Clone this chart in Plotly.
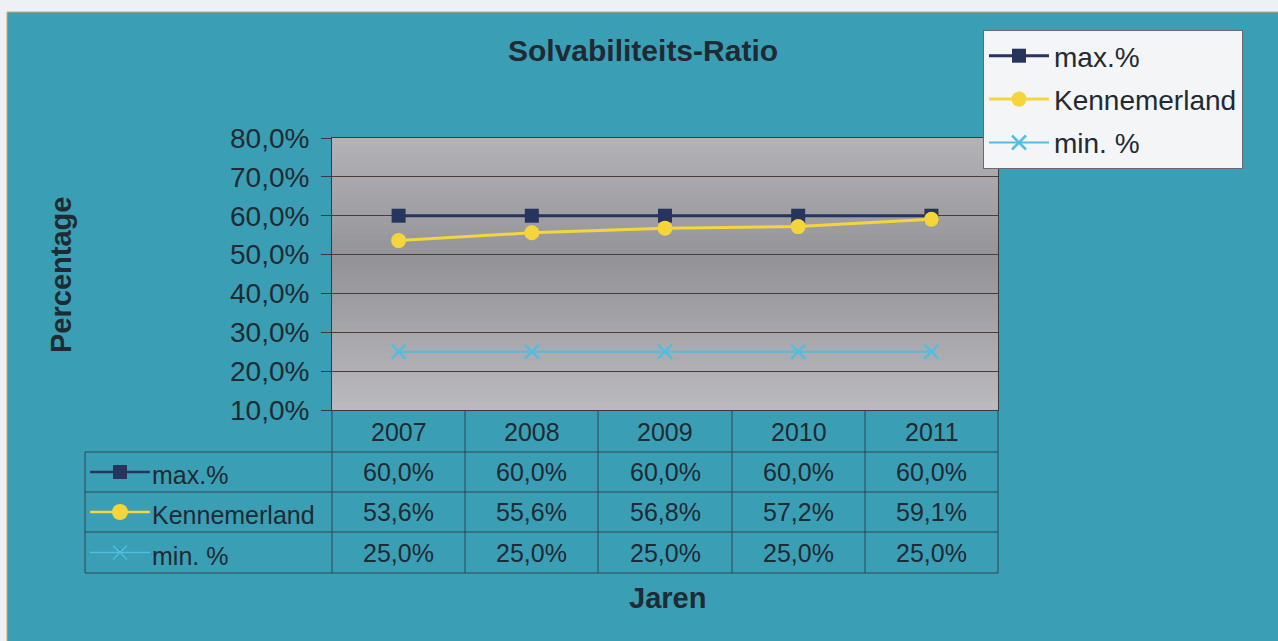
import plotly.graph_objects as go

years = ["2007", "2008", "2009", "2010", "2011"]
max_pct = [0.600, 0.600, 0.600, 0.600, 0.600]
kennemerland = [0.536, 0.556, 0.568, 0.572, 0.591]
min_pct = [0.250, 0.250, 0.250, 0.250, 0.250]
series_names = ["max.%", "Kennemerland", "min. %"]
y_ticks = [0.1, 0.2, 0.3, 0.4, 0.5, 0.6, 0.7, 0.8]

W, H = 1278, 641
def X(px): return px / W
def Y(py): return 1 - py / H

TEAL = "#3a9fb5"
NAVY = "#26345e"
YELLOW = "#f4d53c"
LIGHTBLUE = "#52bde0"
TXT = "#1f2a33"
FONT = "Liberation Sans, Arial, sans-serif"

fig = go.Figure()
series = [(max_pct, NAVY, "square", 14, 3),
          (kennemerland, YELLOW, "circle", 15, 3),
          (min_pct, LIGHTBLUE, "x-thin-open", 14, 2)]
for (vals, col, sym, sz, lw), name in zip(series, series_names):
    marker = dict(symbol=sym, size=sz, color=col)
    if sym.endswith("open"):
        marker["line"] = dict(color=col, width=2.5)
    fig.add_trace(go.Scatter(x=years, y=vals, name=name, mode="lines+markers", legendgroup=name,
                             line=dict(color=col, width=lw), marker=marker))

shapes = []
shapes.append(dict(type="rect", xref="paper", yref="paper", x0=X(7), x1=X(W + 5), y0=Y(H + 5), y1=Y(12),
                   fillcolor=TEAL, line=dict(color="#d9a070", width=1), layer="below"))
px0, px1, py0, py1 = 332, 998, 138, 410
n = 34
for i in range(n):
    t = i / (n - 1)
    d = abs(t - 0.45) / 0.55
    g = int(148 + 38 * d)
    c = f"rgb({g},{g},{g+4})"
    ya = py0 + (py1 - py0) * i / n
    yb = py0 + (py1 - py0) * (i + 1) / n
    shapes.append(dict(type="rect", xref="paper", yref="paper", x0=X(px0), x1=X(px1), y0=Y(yb + 0.5), y1=Y(ya - 0.5),
                       fillcolor=c, line=dict(width=0), layer="below"))

GRID = "#2c4650"
cols = [332, 465, 598, 732, 865, 998]
rows = [410, 452, 492, 532, 573]
for cx in cols:
    shapes.append(dict(type="line", xref="paper", yref="paper", x0=X(cx), x1=X(cx), y0=Y(410), y1=Y(573),
                       line=dict(color=GRID, width=1)))
shapes.append(dict(type="line", xref="paper", yref="paper", x0=X(85), x1=X(85), y0=Y(452), y1=Y(573),
                   line=dict(color=GRID, width=1)))
for ry in rows[1:]:
    shapes.append(dict(type="line", xref="paper", yref="paper", x0=X(85), x1=X(998), y0=Y(ry), y1=Y(ry),
                       line=dict(color=GRID, width=1)))

TS = 25
annotations = []
for i, yr in enumerate(years):
    cxm = (cols[i] + cols[i + 1]) / 2
    annotations.append(dict(x=X(cxm), y=Y(432), xref="paper", yref="paper", text=yr, showarrow=False,
                            xanchor="center", yanchor="middle", font=dict(size=TS, color=TXT, family=FONT)))
row_vals = [max_pct, kennemerland, min_pct]
row_cols = [NAVY, YELLOW, LIGHTBLUE]
row_syms = ["square", "circle", "x"]
for r, (vals, name) in enumerate(zip(row_vals, series_names)):
    yc = (rows[r + 1] + rows[r + 2]) / 2
    annotations.append(dict(x=X(150), y=Y(yc + 3), xref="paper", yref="paper", text=name, showarrow=False,
                            xanchor="left", yanchor="middle", font=dict(size=TS, color=TXT, family=FONT)))
    for i, v in enumerate(vals):
        cxm = (cols[i] + cols[i + 1]) / 2
        txt = f"{v*100:.1f}%".replace(".", ",")
        annotations.append(dict(x=X(cxm), y=Y(yc), xref="paper", yref="paper", text=txt, showarrow=False,
                                xanchor="center", yanchor="middle", font=dict(size=TS, color=TXT, family=FONT)))
    col = row_cols[r]
    shapes.append(dict(type="line", xref="paper", yref="paper", x0=X(90), x1=X(150), y0=Y(yc), y1=Y(yc),
                       line=dict(color=col, width=2.5 if r < 2 else 1.5)))
    if row_syms[r] == "square":
        shapes.append(dict(type="rect", xref="paper", yref="paper", x0=X(113), x1=X(127), y0=Y(yc + 7), y1=Y(yc - 7),
                           fillcolor=col, line=dict(width=0)))
    elif row_syms[r] == "circle":
        shapes.append(dict(type="circle", xref="paper", yref="paper", x0=X(112), x1=X(128), y0=Y(yc + 8), y1=Y(yc - 8),
                           fillcolor=col, line=dict(width=0)))
    else:
        for dx in (-1, 1):
            shapes.append(dict(type="line", xref="paper", yref="paper", x0=X(120 - 7 * dx), x1=X(120 + 7 * dx),
                               y0=Y(yc - 7), y1=Y(yc + 7), line=dict(color=col, width=1.5)))

annotations.append(dict(x=X(643), y=Y(50), xref="paper", yref="paper", text="<b>Solvabiliteits-Ratio</b>",
                        showarrow=False, xanchor="center", yanchor="middle", font=dict(size=30, color=TXT, family=FONT)))
annotations.append(dict(x=X(667), y=Y(598), xref="paper", yref="paper", text="<b>Jaren</b>",
                        showarrow=False, xanchor="center", yanchor="middle", font=dict(size=29, color=TXT, family=FONT)))
annotations.append(dict(x=X(61), y=Y(275), xref="paper", yref="paper", text="<b>Percentage</b>",
                        showarrow=False, textangle=-90, yanchor="middle", xanchor="center",
                        font=dict(size=29, color=TXT, family=FONT)))

fig.update_layout(
    width=W, height=H, margin=dict(l=0, r=0, t=0, b=0, pad=0, autoexpand=False),
    paper_bgcolor="#eef1f3", plot_bgcolor="rgba(0,0,0,0)",
    separators=",.",
    font=dict(family=FONT, color=TXT),
    xaxis=dict(domain=[X(332), X(998)], range=[-0.5, 4.5], type="category", showticklabels=False,
               showgrid=False, zeroline=False, showline=True, linecolor="#3a3a3a", linewidth=1, mirror=True),
    yaxis=dict(domain=[Y(410), Y(138)], range=[0.1, 0.8], tickvals=y_ticks, tickformat=".1%",
               tickfont=dict(size=28, color=TXT, family=FONT), showgrid=True, gridcolor="#4a3a38", gridwidth=1,
               zeroline=False, showline=True, linecolor="#3a3a3a", linewidth=1, mirror=True,
               ticks="outside", ticklen=10, tickcolor="#3a3a3a", ticklabelstandoff=6),
    legend=dict(x=X(983), y=Y(30), xanchor="left", yanchor="top", bgcolor="#f3f5f7", bordercolor="#6a6a6a",
                borderwidth=1, font=dict(size=28, color=TXT, family=FONT), itemwidth=60, tracegroupgap=4),
    shapes=shapes, annotations=annotations,
)
fig.write_html("out.html", config={"displayModeBar": False},
               post_script="document.body.style.margin='0';document.body.style.overflow='hidden';")
